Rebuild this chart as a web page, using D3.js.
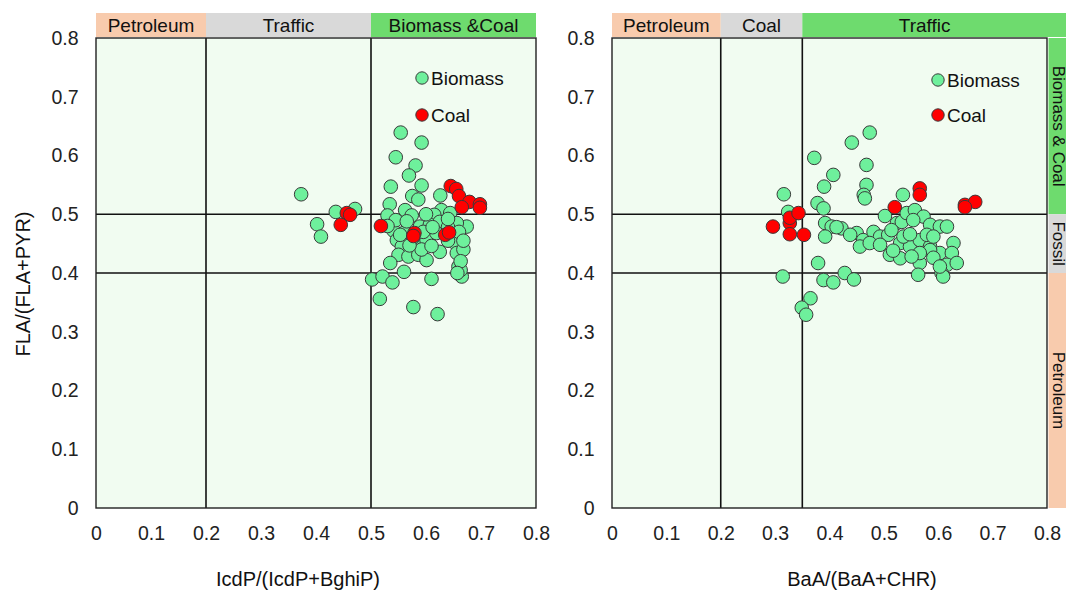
<!DOCTYPE html>
<html>
<head>
<meta charset="utf-8">
<script src="https://cdn.jsdelivr.net/npm/d3@7/dist/d3.min.js"></script>
<style>
  html, body { margin: 0; padding: 0; background: #fff; }
  svg { display: block; font-family: "Liberation Sans", Arial, sans-serif; }
</style>
</head>
<body>
<svg id="chart" width="1066" height="590"></svg>
<script>
// Diagnostic ratio cross-plots of PAH isomer pairs

// Axis ticks shared by both panels
const tickValues = [0, 0.1, 0.2, 0.3, 0.4, 0.5, 0.6, 0.7, 0.8];
const tickLabels = ["0", "0.1", "0.2", "0.3", "0.4", "0.5", "0.6", "0.7", "0.8"];

// Source zones along the x ratio
const leftZones = [
  { name: "Petroleum", from: 0, to: 0.2, fill: "#f8cbad" },
  { name: "Traffic", from: 0.2, to: 0.5, fill: "#d9d9d9" },
  { name: "Biomass &Coal", from: 0.5, to: 0.8, fill: "#6edb6e" }
];
const rightZones = [
  { name: "Petroleum", from: 0, to: 0.2, fill: "#f8cbad" },
  { name: "Coal", from: 0.2, to: 0.35, fill: "#d9d9d9" },
  { name: "Traffic", from: 0.35, to: 0.8, fill: "#6edb6e" }
];
// Source zones along FLA/(FLA+PYR)
const yZones = [
  { name: "Biomass & Coal", from: 0.5, to: 0.8, fill: "#6edb6e" },
  { name: "Fossil", from: 0.4, to: 0.5, fill: "#d9d9d9" },
  { name: "Petroleum", from: 0, to: 0.4, fill: "#f8cbad" }
];

// IcdP/(IcdP+BghiP) vs FLA/(FLA+PYR)
const leftBiomassX = [0.373,0.554,0.592,0.545,0.581,0.569,0.536,0.592,0.575,0.586,0.626,0.534,0.471,0.436,0.402,0.409,0.628,0.562,
  0.530,0.574,0.615,0.644,0.674,0.541,0.562,0.589,0.607,0.625,0.656,0.547,0.556,0.583,0.601,0.619,0.650,0.653,0.656,0.659,0.662,
  0.550,0.568,0.586,0.601,0.625,0.535,0.560,0.610,0.502,0.521,0.539,0.516,0.577,0.621,0.665,0.663,
  0.545,0.565,0.595,0.612,0.640,0.660,0.668,0.663,0.576,0.592,0.610,0.530,0.553,0.640,0.570,0.600,0.640,0.668,0.657];
const leftBiomassY = [0.534,0.639,0.622,0.597,0.583,0.566,0.547,0.549,0.531,0.525,0.532,0.517,0.509,0.504,0.483,0.462,0.507,0.507,
  0.498,0.498,0.499,0.502,0.479,0.472,0.470,0.479,0.482,0.487,0.485,0.456,0.445,0.451,0.456,0.468,0.468,0.451,0.434,0.411,0.397,
  0.431,0.428,0.431,0.422,0.436,0.417,0.402,0.390,0.389,0.394,0.384,0.356,0.342,0.330,0.394,0.405,
  0.490,0.488,0.470,0.478,0.478,0.470,0.440,0.420,0.460,0.440,0.446,0.480,0.465,0.455,0.447,0.500,0.492,0.455,0.400];
const leftCoalX = [0.456,0.462,0.445,0.518,0.579,0.577,0.635,0.642,0.645,0.655,0.660,0.679,0.698,0.698,0.665];
const leftCoalY = [0.502,0.499,0.482,0.480,0.468,0.463,0.465,0.469,0.548,0.543,0.531,0.521,0.517,0.511,0.512];

// BaA/(BaA+CHR) vs FLA/(FLA+PYR)
const rightBiomassX = [0.474,0.441,0.372,0.468,0.407,0.390,0.468,0.463,0.465,0.316,0.535,0.378,0.389,0.324,
  0.392,0.404,0.422,0.392,0.450,0.462,0.481,0.493,0.508,0.524,0.533,0.542,0.557,0.573,0.585,0.603,0.616,
  0.456,0.474,0.493,0.511,0.530,0.548,0.566,0.585,0.603,0.628,0.625,0.530,0.566,0.585,0.616,0.634,0.606,0.609,0.563,
  0.379,0.314,0.389,0.407,0.428,0.445,0.365,0.349,0.357,
  0.502,0.514,0.554,0.536,0.579,0.591,0.438,0.413,0.548,0.517,0.591,0.603,0.566,0.551];
const rightBiomassY = [0.639,0.622,0.596,0.584,0.567,0.547,0.550,0.533,0.527,0.534,0.533,0.519,0.510,0.504,
  0.485,0.479,0.476,0.462,0.468,0.456,0.470,0.462,0.465,0.485,0.487,0.502,0.507,0.496,0.482,0.479,0.479,
  0.445,0.451,0.448,0.431,0.451,0.445,0.456,0.445,0.434,0.451,0.434,0.425,0.417,0.439,0.414,0.417,0.400,0.394,0.397,
  0.417,0.394,0.388,0.384,0.400,0.389,0.357,0.341,0.329,
  0.497,0.473,0.490,0.462,0.465,0.462,0.465,0.478,0.466,0.438,0.426,0.411,0.434,0.428];
const rightCoalX = [0.296,0.327,0.327,0.343,0.327,0.353,0.520,0.566,0.566,0.649,0.668,0.649];
const rightCoalY = [0.479,0.485,0.494,0.502,0.466,0.465,0.512,0.544,0.533,0.516,0.521,0.512];

const legendNames = ["Biomass", "Coal"];
const colors = { Biomass: "#6ef09c", Coal: "#ff0000" };

const svg = d3.select("#chart");
const plotTop = 38, plotBottom = 508;
const y = d3.scaleLinear().domain([0, 0.8]).range([plotBottom, plotTop]);

function zip(xs, ys) { return xs.map((v, i) => ({ x: v, y: ys[i] })); }

function panel(cfg) {
  const x = d3.scaleLinear().domain([0, 0.8]).range([cfg.x0, cfg.x1]);
  const g = svg.append("g");

  // plot background
  g.append("rect").attr("x", x(0)).attr("y", y(0.8))
    .attr("width", x(0.8) - x(0)).attr("height", y(0) - y(0.8))
    .attr("fill", "#f1fcf1");

  // zone header along the top
  g.selectAll(".hz").data(cfg.zones).enter().append("rect")
    .attr("x", d => x(d.from)).attr("y", plotTop - 25)
    .attr("width", d => x(d.to) - x(d.from) + (d.to === 0.8 && cfg.bandRight ? cfg.bandRight : 0))
    .attr("height", 24).attr("fill", d => d.fill);
  g.selectAll(".hzt").data(cfg.zones).enter().append("text")
    .attr("x", d => (x(d.from) + x(d.to)) / 2).attr("y", plotTop - 6)
    .attr("text-anchor", "middle").attr("font-size", 19).attr("fill", "#111")
    .text(d => d.name);

  // y zones on the right side
  if (cfg.yBand) {
    const bx = x(0.8) + 1.5;
    g.selectAll(".vz").data(yZones).enter().append("rect")
      .attr("x", bx).attr("y", d => y(d.to))
      .attr("width", 30).attr("height", d => y(d.from) - y(d.to))
      .attr("fill", d => d.fill);
    g.selectAll(".vzt").data(yZones).enter().append("text")
      .attr("transform", d => `translate(${bx + 9.5},${(y(d.from) + y(d.to)) / 2}) rotate(90)`)
      .attr("text-anchor", "middle").attr("dominant-baseline", "central")
      .attr("font-size", 17).attr("fill", "#111")
      .text(d => d.name);
  }

  // axes (labels only)
  const xa = g.append("g").attr("transform", `translate(0,${plotBottom})`)
    .call(d3.axisBottom(x).tickValues(tickValues).tickFormat((d, i) => tickLabels[i]).tickSize(0).tickPadding(18));
  const ya = g.append("g").attr("transform", `translate(${x(0)},0)`)
    .call(d3.axisLeft(y).tickValues(tickValues).tickFormat((d, i) => tickLabels[i]).tickSize(0).tickPadding(17.5));
  [xa, ya].forEach(a => {
    a.select(".domain").remove();
    a.selectAll("text").attr("font-size", 19.5).attr("fill", "#222")
      .attr("font-family", "'Liberation Sans', Arial, sans-serif");
  });

  // threshold lines
  cfg.xLines.forEach(v => g.append("line").attr("x1", x(v)).attr("x2", x(v))
    .attr("y1", y(0)).attr("y2", y(0.8)).attr("stroke", "#111").attr("stroke-width", 1.6));
  [0.4, 0.5].forEach(v => g.append("line").attr("x1", x(0)).attr("x2", x(0.8))
    .attr("y1", y(v)).attr("y2", y(v)).attr("stroke", "#111").attr("stroke-width", 1.6));

  // frame
  g.append("rect").attr("x", x(0)).attr("y", y(0.8))
    .attr("width", x(0.8) - x(0)).attr("height", y(0) - y(0.8))
    .attr("fill", "none").attr("stroke", "#222").attr("stroke-width", 1.4);

  // points
  const drawPts = (pts, color) => g.append("g").selectAll("circle").data(pts).enter().append("circle")
    .attr("cx", d => x(d.x)).attr("cy", d => y(d.y)).attr("r", 6.8)
    .attr("fill", color).attr("stroke", "#3a3a3a").attr("stroke-width", 1);
  drawPts(cfg.biomass, colors.Biomass);
  drawPts(cfg.coal, colors.Coal);

  // legend
  const lg = g.append("g").attr("transform", `translate(${cfg.legend[0]},${cfg.legend[1]})`);
  legendNames.forEach((n, i) => {
    lg.append("circle").attr("cx", 0).attr("cy", i * cfg.legendGap).attr("r", 6.2)
      .attr("fill", colors[n]).attr("stroke", "#3a3a3a").attr("stroke-width", 1);
    lg.append("text").attr("x", 9).attr("y", i * cfg.legendGap + 7)
      .attr("font-size", 19).attr("fill", "#111").text(n);
  });

  // x title
  g.append("text").attr("x", cfg.titleX).attr("y", 586)
    .attr("text-anchor", "middle").attr("font-size", 20).attr("fill", "#111").text(cfg.title);
}

panel({
  x0: 96, x1: 536, zones: leftZones, xLines: [0.2, 0.5],
  biomass: zip(leftBiomassX, leftBiomassY), coal: zip(leftCoalX, leftCoalY),
  legend: [422, 78], legendGap: 37, title: "IcdP/(IcdP+BghiP)", titleX: 298
});
panel({
  x0: 612, x1: 1047, zones: rightZones, xLines: [0.2, 0.35], yBand: true, bandRight: 30,
  biomass: zip(rightBiomassX, rightBiomassY), coal: zip(rightCoalX, rightCoalY),
  legend: [938, 80], legendGap: 35, title: "BaA/(BaA+CHR)", titleX: 862
});

// shared y title
svg.append("text").attr("transform", "translate(30,284) rotate(-90)")
  .attr("text-anchor", "middle").attr("font-size", 20).attr("fill", "#111").text("FLA/(FLA+PYR)");
</script>
</body>
</html>
